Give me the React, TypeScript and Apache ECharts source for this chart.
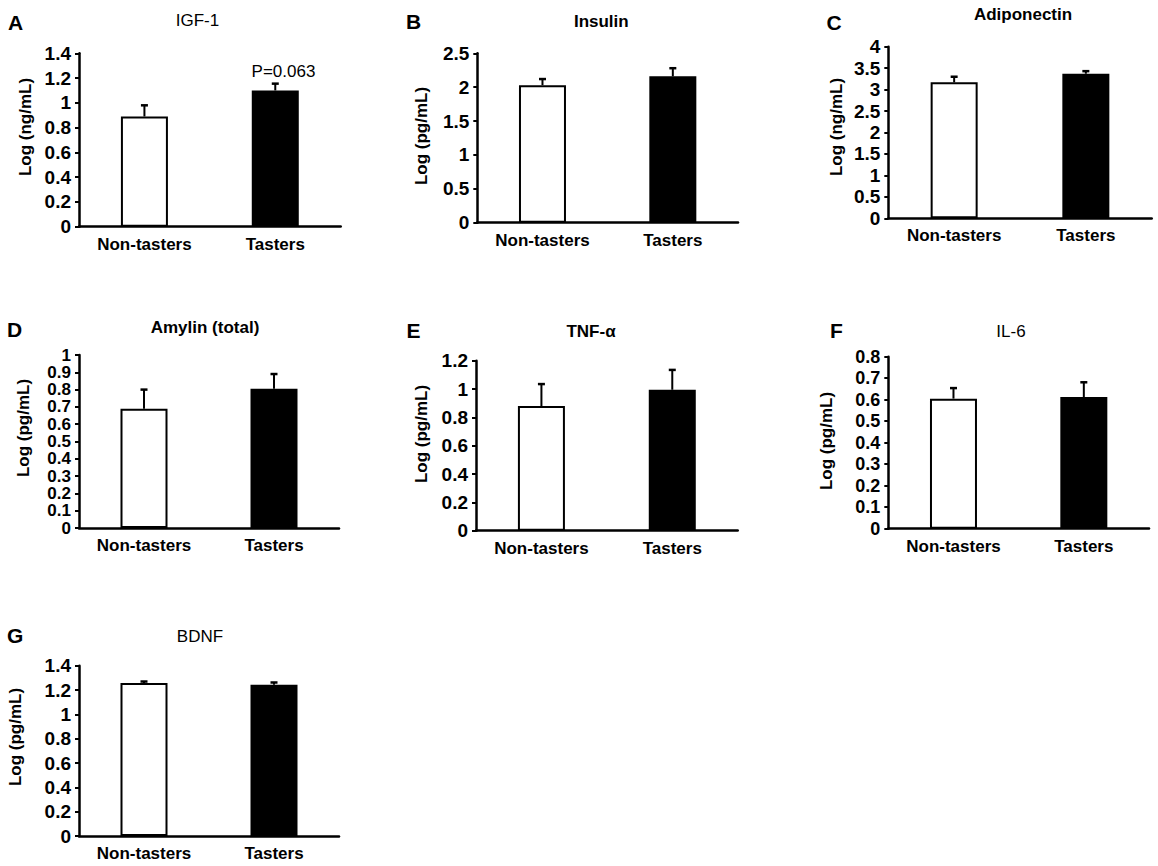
import React, { useEffect, useRef } from "react";
import * as echarts from "echarts";

// ---------- data ----------
const categories = ["Non-tasters", "Tasters"];
const panelLetters = ["A", "B", "C", "D", "E", "F", "G"];
const panelTitles = ["IGF-1", "Insulin", "Adiponectin", "Amylin (total)", "TNF-α", "IL-6", "BDNF"];
const axisNames = ["Log (ng/mL)", "Log (pg/mL)", "Log (ng/mL)", "Log (pg/mL)", "Log (pg/mL)", "Log (pg/mL)", "Log (pg/mL)"];
const axisMax = [1.4, 2.5, 4, 1, 1.2, 0.8, 1.4];
const axisStep = [0.2, 0.5, 0.5, 0.1, 0.2, 0.1, 0.2];

const igf1Means = [0.89, 1.1];
const igf1Errors = [0.09, 0.055];
const insulinMeans = [2.03, 2.16];
const insulinErrors = [0.09, 0.12];
const adiponectinMeans = [3.17, 3.37];
const adiponectinErrors = [0.13, 0.06];
const amylinMeans = [0.69, 0.805];
const amylinErrors = [0.11, 0.085];
const tnfMeans = [0.88, 0.995];
const tnfErrors = [0.155, 0.14];
const il6Means = [0.605, 0.612];
const il6Errors = [0.049, 0.069];
const bdnfMeans = [1.258, 1.244];
const bdnfErrors = [0.012, 0.018];

const pValueLabel = "P=0.063";

const allMeans = [igf1Means, insulinMeans, adiponectinMeans, amylinMeans, tnfMeans, il6Means, bdnfMeans];
const allErrors = [igf1Errors, insulinErrors, adiponectinErrors, amylinErrors, tnfErrors, il6Errors, bdnfErrors];

// ---------- layout ----------
const grids = [
  { left: 79, top: 53.3, width: 261.7, height: 173.4 },
  { left: 477.3, top: 53.3, width: 260.7, height: 169.4 },
  { left: 888.3, top: 46.7, width: 263.4, height: 171.6 },
  { left: 79, top: 355, width: 260, height: 173 },
  { left: 476, top: 360.7, width: 261.7, height: 170 },
  { left: 888.3, top: 356.7, width: 260.7, height: 172 },
  { left: 79, top: 665.7, width: 260, height: 170.3 },
];
const tickFontSize = [19, 19, 19, 17, 19, 18, 19];
const titlePos = [
  [197.5, 20.5], [601.3, 21], [1023, 14], [205, 327], [591, 331], [1011, 331], [200, 636],
];
const titleBold = [false, true, true, true, true, false, false];
const letterPos = [
  [8, 22.5], [406, 21.3], [826.5, 22.5], [7, 329.2], [406.5, 330], [830, 330], [7, 635.5],
];
const namePos = [
  [25, 127], [421.7, 136], [836.7, 127], [23.3, 428], [421.7, 434], [826.7, 441], [15, 737],
];
const pValuePos = [283.5, 71.5];

const FONT = "'Liberation Sans', Arial, Helvetica, sans-serif";
const barColors = ["#ffffff", "#000000"];

export default function App() {
  const ref = useRef<HTMLDivElement>(null);

  useEffect(() => {
    if (!ref.current) return;
    const chart = echarts.init(ref.current, undefined, { renderer: "svg" });

    const grid = grids.map((g) => ({ ...g, containLabel: false }));
    const xAxis = grids.map((_, i) => ({
      type: "category",
      gridIndex: i,
      data: categories,
      axisLine: { show: true, onZero: false, lineStyle: { color: "#000", width: 2.5 } },
      axisTick: { show: false },
      axisLabel: { color: "#000", fontSize: 17, fontWeight: "bold", fontFamily: FONT, margin: 9 },
      splitLine: { show: false },
    }));
    const yAxis = grids.map((_, i) => ({
      type: "value",
      gridIndex: i,
      min: 0,
      max: axisMax[i],
      interval: axisStep[i],
      axisLine: { show: true, lineStyle: { color: "#000", width: 2.5 } },
      axisTick: { show: true, length: 4, inside: false, lineStyle: { color: "#000", width: 2 } },
      axisLabel: {
        color: "#000",
        fontSize: tickFontSize[i],
        fontWeight: "bold",
        fontFamily: FONT,
        margin: 8,
        lineHeight: Math.min(tickFontSize[i], 16),
        hideOverlap: false,
        showMinLabel: true,
        showMaxLabel: true,
      },
      splitLine: { show: false },
    }));

    const series: any[] = [];
    grids.forEach((_, i) => {
      series.push({
        type: "bar",
        xAxisIndex: i,
        yAxisIndex: i,
        barWidth: 47,
        data: allMeans[i].map((v, k) => ({
          value: v,
          itemStyle: { color: barColors[k], borderColor: "#000", borderWidth: 2 },
        })),
        z: 2,
      });
      series.push({
        type: "custom",
        xAxisIndex: i,
        yAxisIndex: i,
        z: 3,
        encode: { x: 0, y: 1 },
        data: allMeans[i].map((v, k) => [k, v, allErrors[i][k]]),
        renderItem: (params: any, api: any) => {
          const x = api.value(0);
          const m = api.value(1);
          const e = api.value(2);
          const p0 = api.coord([x, m]);
          const p1 = api.coord([x, m + e]);
          return {
            type: "group",
            children: [
              {
                type: "line",
                shape: { x1: p0[0], y1: p0[1], x2: p1[0], y2: p1[1] },
                style: { stroke: "#000", lineWidth: 2 },
              },
              {
                type: "line",
                shape: { x1: p1[0] - 3.5, y1: p1[1], x2: p1[0] + 3.5, y2: p1[1] },
                style: { stroke: "#000", lineWidth: 2.5 },
              },
            ],
          };
        },
      });
    });

    const graphic: any[] = [];
    grids.forEach((_, i) => {
      graphic.push({
        type: "text",
        x: titlePos[i][0],
        y: titlePos[i][1],
        style: {
          text: panelTitles[i],
          fill: "#000",
          font: `${titleBold[i] ? "bold " : ""}17px ${FONT}`,
          textAlign: "center",
          textVerticalAlign: "middle",
        },
      });
      graphic.push({
        type: "text",
        x: letterPos[i][0],
        y: letterPos[i][1],
        style: {
          text: panelLetters[i],
          fill: "#000",
          font: `bold 21px ${FONT}`,
          textAlign: "left",
          textVerticalAlign: "middle",
        },
      });
      graphic.push({
        type: "text",
        x: namePos[i][0],
        y: namePos[i][1],
        rotation: Math.PI / 2,
        style: {
          text: axisNames[i],
          fill: "#000",
          font: `bold 17px ${FONT}`,
          textAlign: "center",
          textVerticalAlign: "middle",
        },
      });
    });
    graphic.push({
      type: "text",
      x: pValuePos[0],
      y: pValuePos[1],
      style: {
        text: pValueLabel,
        fill: "#000",
        font: `17px ${FONT}`,
        textAlign: "center",
        textVerticalAlign: "middle",
      },
    });

    chart.setOption({
      animation: false,
      backgroundColor: "#ffffff",
      textStyle: { fontFamily: FONT },
      grid,
      xAxis,
      yAxis,
      series,
      graphic,
    });

    return () => chart.dispose();
  }, []);

  return (
    <div
      ref={ref}
      style={{ position: "absolute", left: 0, top: 0, width: 1158, height: 866, background: "#fff" }}
    />
  );
}
